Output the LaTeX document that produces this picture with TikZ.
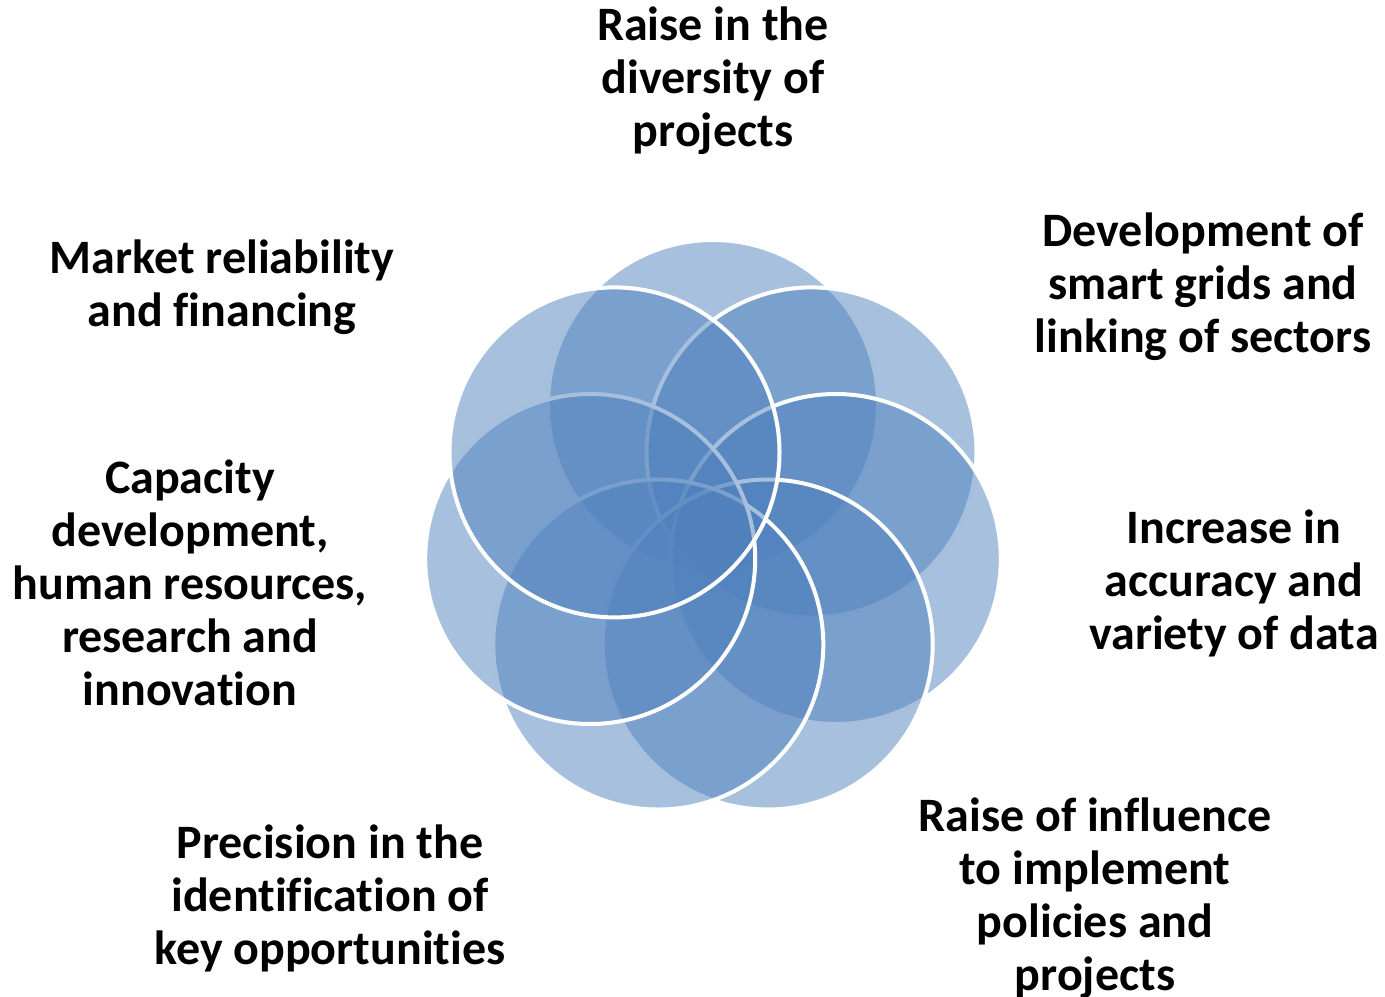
\documentclass[tikz,border=0pt]{standalone}
\usepackage{fontspec}
\setmainfont[Ligatures=NoCommon]{Carlito}
\definecolor{venn}{RGB}{79,129,189}
\begin{document}
\begin{tikzpicture}[x=0.75pt,y=-0.75pt,
  petal/.style={circle, minimum size=247.5pt, inner sep=0pt, fill=venn, fill opacity=0.5, draw=white, line width=3pt},
  lbl/.style={align=center, font=\fontsize{36}{39.75}\selectfont\bfseries, text=black, inner sep=0pt}]
\useasboundingbox (0,0) rectangle (1385,996);
% circles, drawn clockwise from top; each later one covers earlier outlines
\node[petal] (c1) at (713.0,405.0) {};
\node[petal] (c2) at (811.5,452.4) {};
\node[petal] (c3) at (835.8,559.0) {};
\node[petal] (c4) at (767.7,644.5) {};
\node[petal] (c5) at (658.3,644.5) {};
\node[petal] (c6) at (590.2,559.0) {};
\node[petal] (c7) at (614.5,452.4) {};
% labels
\node[lbl] (t1) at (713,81) {Raise in the\\diversity of\\projects};
\node[lbl] (t2) at (1203,287) {Development of\\smart grids and\\linking of sectors};
\node[lbl] (t3) at (1234,583) {Increase in\\accuracy and\\variety of data};
\node[lbl] (t4) at (1095,898) {Raise of influence\\to implement\\policies and\\projects};
\node[lbl] (t5) at (330,898) {Precision in the\\identification of\\key opportunities};
\node[lbl] (t6) at (190,583) {Capacity\\development,\\human resources,\\research and\\innovation};
\node[lbl] (t7) at (222,287) {Market reliability\\and financing};
\end{tikzpicture}
\end{document}
